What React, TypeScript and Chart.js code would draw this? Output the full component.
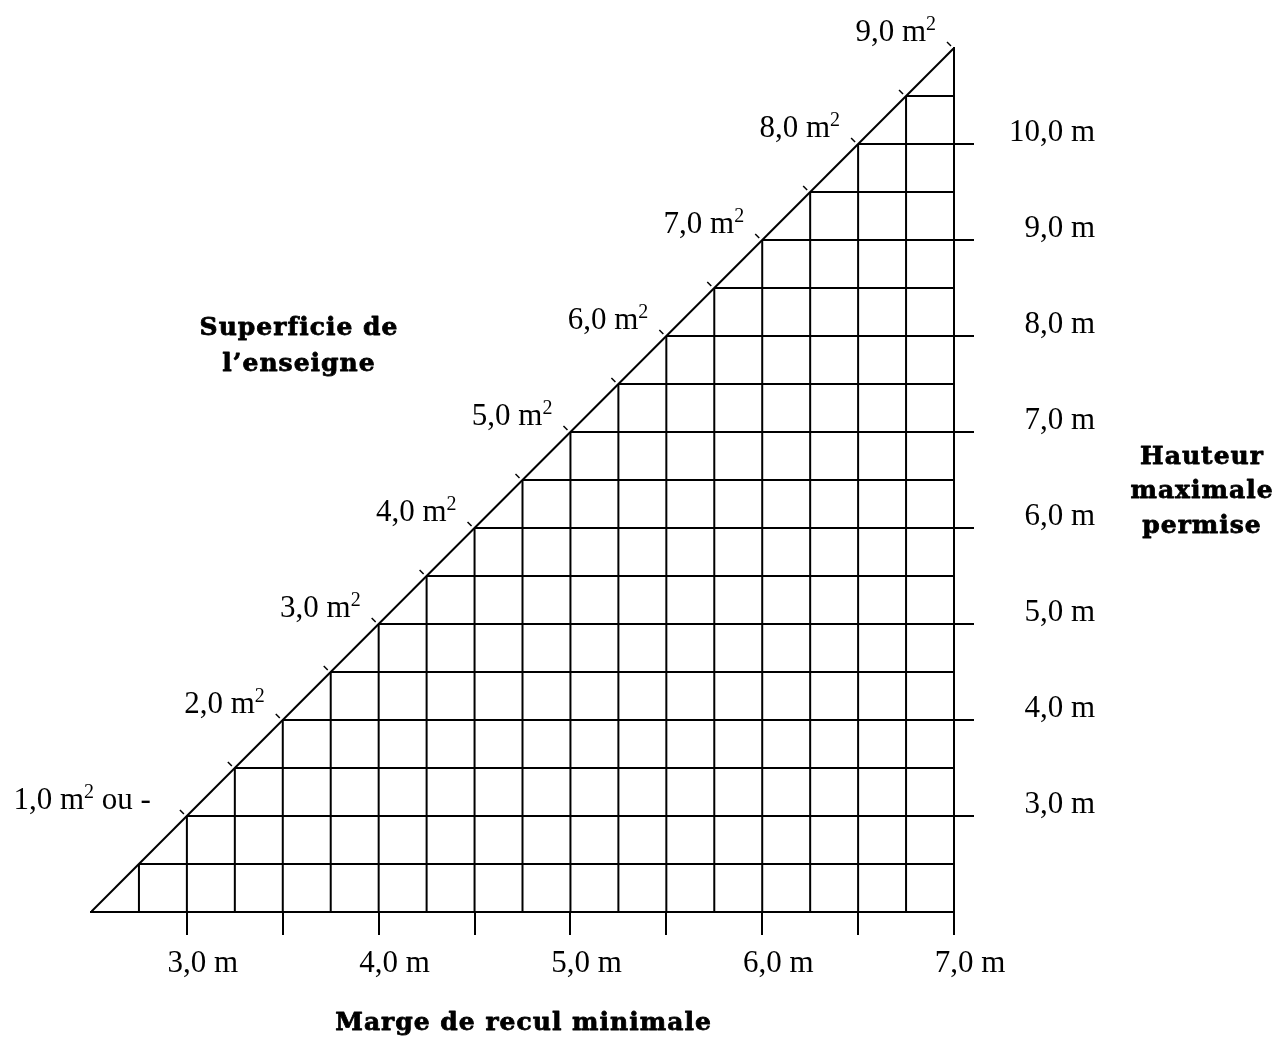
import React, { useEffect, useRef } from "react";
import { Chart, registerables } from "chart.js";

Chart.register(...registerables);

// Axis ticks and labels
const setbackTicks = [3.0, 3.5, 4.0, 4.5, 5.0, 5.5, 6.0, 6.5, 7.0];
const setbackLabels = ["3,0 m", "", "4,0 m", "", "5,0 m", "", "6,0 m", "", "7,0 m"];
const heightTicks = [3, 4, 5, 6, 7, 8, 9, 10];
const heightLabels = ["3,0 m", "4,0 m", "5,0 m", "6,0 m", "7,0 m", "8,0 m", "9,0 m", "10,0 m"];

// Axis extents
const setbackMin = 2.5;
const setbackMax = 7.0;
const heightMin = 2.0;
const heightMax = 11.0;

// Hypotenuse (setback -> max height)
const hypotenuseSetbacks = [2.5, 7.0];
const hypotenuseHeights = [2.0, 11.0];

// Grid nodes on the hypotenuse
const gridSetbacks = [2.75, 3.0, 3.25, 3.5, 3.75, 4.0, 4.25, 4.5, 4.75, 5.0, 5.25, 5.5, 5.75, 6.0, 6.25, 6.5, 6.75];
const gridHeights = [2.5, 3.0, 3.5, 4.0, 4.5, 5.0, 5.5, 6.0, 6.5, 7.0, 7.5, 8.0, 8.5, 9.0, 9.5, 10.0, 10.5];

// Small marks along the hypotenuse
const markSetbacks = [3.0, 3.25, 3.5, 3.75, 4.0, 4.25, 4.5, 4.75, 5.0, 5.25, 5.5, 5.75, 6.0, 6.25, 6.5, 6.75, 7.0];
const markHeights = [3.0, 3.5, 4.0, 4.5, 5.0, 5.5, 6.0, 6.5, 7.0, 7.5, 8.0, 8.5, 9.0, 9.5, 10.0, 10.5, 11.0];

// Sign area labels
const areaSetbacks = [3.0, 3.5, 4.0, 4.5, 5.0, 5.5, 6.0, 6.5, 7.0];
const areaHeights = [3, 4, 5, 6, 7, 8, 9, 10, 11];
const areaLabels = ["1,0", "2,0", "3,0", "4,0", "5,0", "6,0", "7,0", "8,0", "9,0"];
const areaSuffixes = ["ou -", "", "", "", "", "", "", "", ""];

const xTitle = "Marge de recul minimale";
const yTitleLines = ["Hauteur", "maximale", "permise"];
const areaTitleLines = ["Superficie de", "l\u2019enseigne"];

const SERIF = "'Liberation Serif', 'Times New Roman', serif";
const BOLD = "'DejaVu Serif', serif";

export default function App() {
  const canvasRef = useRef<HTMLCanvasElement | null>(null);

  useEffect(() => {
    const canvas = canvasRef.current;
    if (!canvas) return;

    const verticalData: any[] = [];
    gridSetbacks.forEach((s, i) => {
      verticalData.push({ x: s, y: heightMin }, { x: s, y: gridHeights[i] }, { x: s, y: null });
    });
    const horizontalData: any[] = [];
    gridHeights.forEach((h, i) => {
      horizontalData.push({ x: gridSetbacks[i], y: h }, { x: setbackMax, y: h }, { x: setbackMax, y: null });
    });
    const hypData = hypotenuseSetbacks.map((s, i) => ({ x: s, y: hypotenuseHeights[i] }));

    const overlay = {
      id: "overlay",
      afterDatasetsDraw(chart: any) {
        const ctx = chart.ctx as CanvasRenderingContext2D;
        const xs = chart.scales.x;
        const ys = chart.scales.y;
        const area = chart.chartArea;
        ctx.save();
        // marks
        ctx.strokeStyle = "#000";
        ctx.lineWidth = 1.5;
        markSetbacks.forEach((s, i) => {
          const px = xs.getPixelForValue(s);
          const py = ys.getPixelForValue(markHeights[i]);
          ctx.beginPath();
          ctx.moveTo(px - 7, py - 6);
          ctx.lineTo(px - 3, py - 2);
          ctx.stroke();
        });
        // area labels
        ctx.fillStyle = "#000";
        ctx.textBaseline = "alphabetic";
        ctx.textAlign = "left";
        areaSetbacks.forEach((s, i) => {
          const px = xs.getPixelForValue(s);
          const py = ys.getPixelForValue(areaHeights[i]);
          const main = areaLabels[i] + " m";
          const suffix = areaSuffixes[i] ? " " + areaSuffixes[i] : "";
          ctx.font = `31px ${SERIF}`;
          const wMain = ctx.measureText(main).width;
          const wSuf = suffix ? ctx.measureText(suffix).width : 0;
          ctx.font = `20px ${SERIF}`;
          const wSup = ctx.measureText("2").width;
          let right = px - 18;
          if (suffix) right -= 18;
          const base = py - 7;
          let x = right - (wMain + wSup + wSuf);
          ctx.font = `31px ${SERIF}`;
          ctx.fillText(main, x, base);
          x += wMain;
          ctx.font = `20px ${SERIF}`;
          ctx.fillText("2", x, base - 11);
          x += wSup;
          if (suffix) {
            ctx.font = `31px ${SERIF}`;
            ctx.fillText(suffix, x, base);
          }
        });
        // titles
        ctx.font = `bold 25px ${BOLD}`;
        (ctx as any).letterSpacing = "1px";
        ctx.textAlign = "center";
        ctx.textBaseline = "middle";
        ctx.lineWidth = 0.8;
        ctx.lineJoin = "round";
        const title = (t: string, x: number, y: number) => {
          ctx.fillText(t, x, y);
          ctx.strokeText(t, x, y);
        };
        title(xTitle, (area.left + area.right) / 2 + 1, area.bottom + 111);
        yTitleLines.forEach((t, i) => title(t, 1202, 457 + i * 34.5));
        areaTitleLines.forEach((t, i) => title(t, 299, 328 + i * 36));
        (ctx as any).letterSpacing = "0px";
        ctx.restore();
      },
    };

    const lineDs = (data: any[]) => ({
      data,
      showLine: true,
      borderColor: "#000",
      borderWidth: 2,
      pointRadius: 0,
      pointHoverRadius: 0,
      spanGaps: false,
      fill: false,
    });

    const chart = new Chart(canvas, {
      type: "scatter",
      data: {
        datasets: [lineDs(verticalData), lineDs(horizontalData), lineDs(hypData)],
      },
      options: {
        animation: false,
        responsive: true,
        maintainAspectRatio: false,
        events: [],
        layout: { padding: { left: 91, top: 48, right: 193, bottom: 0 } },
        plugins: { legend: { display: false }, tooltip: { enabled: false }, title: { display: false } },
        scales: {
          x: {
            type: "linear",
            position: "bottom",
            min: setbackMin,
            max: setbackMax,
            afterBuildTicks: (s: any) => {
              s.ticks = setbackTicks.map((v) => ({ value: v }));
            },
            afterFit: (s: any) => {
              s.height = 126;
              s.paddingLeft = 0;
              s.paddingRight = 0;
            },
            ticks: {
              callback: (_v: any, i: number) => setbackLabels[i],
              font: { family: SERIF, size: 31 },
              color: "#000",
              autoSkip: false,
              maxRotation: 0,
              minRotation: 0,
              padding: 10,
              labelOffset: 16,
            },
            grid: { drawOnChartArea: false, drawTicks: true, tickLength: 23, color: "#000", lineWidth: 2 },
            border: { display: true, color: "#000", width: 2 },
          },
          y: {
            type: "linear",
            position: "right",
            min: heightMin,
            max: heightMax,
            afterBuildTicks: (s: any) => {
              s.ticks = heightTicks.map((v) => ({ value: v }));
            },
            afterFit: (s: any) => {
              s.width = 141;
              s.paddingTop = 0;
              s.paddingBottom = 0;
            },
            ticks: {
              callback: (_v: any, i: number) => heightLabels[i],
              font: { family: SERIF, size: 31 },
              color: "#000",
              autoSkip: false,
              crossAlign: "far",
              padding: 34,
              labelOffset: -11,
            },
            grid: { drawOnChartArea: false, drawTicks: true, tickLength: 20, color: "#000", lineWidth: 2 },
            border: { display: true, color: "#000", width: 2 },
          },
        },
      },
      plugins: [overlay],
    } as any);

    return () => chart.destroy();
  }, []);

  return (
    <div style={{ position: "absolute", left: 0, top: 0, width: 1288, height: 1038, background: "#fff" }}>
      <canvas ref={canvasRef} />
    </div>
  );
}
